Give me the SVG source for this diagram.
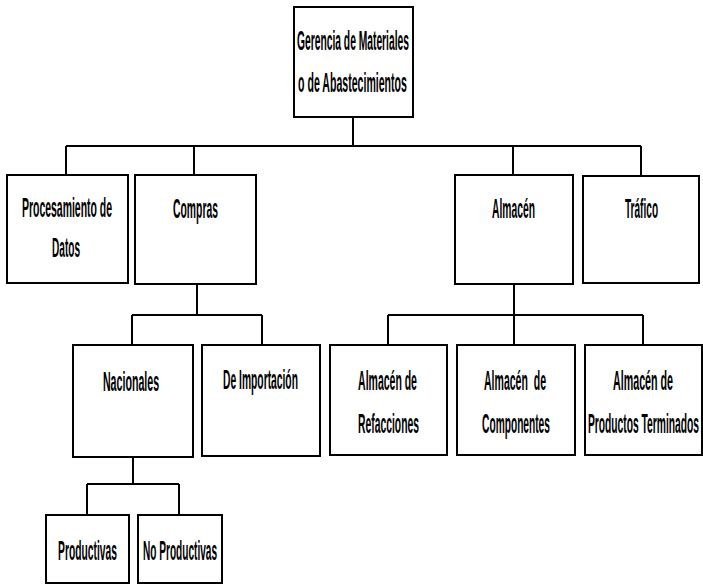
<svg xmlns="http://www.w3.org/2000/svg" width="703" height="585" viewBox="0 0 703 585">
<style>
.box{fill:#fff;stroke:#000;stroke-width:2}
.ln{fill:none;stroke:#000;stroke-width:2}
text{font-family:"Liberation Sans",Arial,sans-serif;font-size:27px;font-weight:bold;fill:#000;text-anchor:middle}
</style>
<rect width="703" height="585" fill="#fff"/>
<g id="connectors">
<path class="ln" d="M353 117V146M66 146H641M66 146V175M194 146V175M513 146V175M641 146V176"/>
<path class="ln" d="M197 284V315M132 315H262M132 315V345M262 315V345"/>
<path class="ln" d="M514 284V315M388 315H643M388 315V345M514 315V345M643 315V345"/>
<path class="ln" d="M133 457V484M87 484H179M87 484V515M179 484V515"/>
</g>
<g id="gerencia"><rect class="box" x="294" y="7" width="119" height="110"/>
<text transform="translate(353 50) scale(0.39 1)" textLength="287" lengthAdjust="spacingAndGlyphs">Gerencia de Materiales</text>
<text transform="translate(352.5 92) scale(0.39 1)" textLength="279" lengthAdjust="spacingAndGlyphs">o de Abastecimientos</text></g>
<g id="procesamiento"><rect class="box" x="7" y="175" width="121" height="108"/>
<text transform="translate(67 217) scale(0.39 1)" textLength="231" lengthAdjust="spacingAndGlyphs">Procesamiento de</text>
<text transform="translate(66 257) scale(0.39 1)" textLength="72" lengthAdjust="spacingAndGlyphs">Datos</text></g>
<g id="compras"><rect class="box" x="135" y="175" width="121" height="109"/>
<text transform="translate(195.5 218) scale(0.39 1)" textLength="115" lengthAdjust="spacingAndGlyphs">Compras</text></g>
<g id="almacen"><rect class="box" x="455" y="175" width="118" height="109"/>
<text transform="translate(513.5 218) scale(0.39 1)" textLength="110" lengthAdjust="spacingAndGlyphs">Almacén</text></g>
<g id="trafico"><rect class="box" x="583" y="176" width="116" height="107"/>
<text transform="translate(641.5 218) scale(0.39 1)" textLength="85" lengthAdjust="spacingAndGlyphs">Tráfico</text></g>
<g id="nacionales"><rect class="box" x="73" y="345" width="120" height="112"/>
<text transform="translate(131 391) scale(0.39 1)" textLength="144" lengthAdjust="spacingAndGlyphs">Nacionales</text></g>
<g id="importacion"><rect class="box" x="202" y="345" width="118" height="111"/>
<text transform="translate(260.5 389) scale(0.39 1)" textLength="192" lengthAdjust="spacingAndGlyphs">De Importación</text></g>
<g id="refacciones"><rect class="box" x="330" y="345" width="117" height="110"/>
<text transform="translate(387.5 390) scale(0.39 1)" textLength="151" lengthAdjust="spacingAndGlyphs">Almacén de</text>
<text transform="translate(388.5 433) scale(0.39 1)" textLength="156" lengthAdjust="spacingAndGlyphs">Refacciones</text></g>
<g id="componentes"><rect class="box" x="457" y="345" width="118" height="110"/>
<text transform="translate(515 390) scale(0.39 1)" textLength="159" lengthAdjust="spacingAndGlyphs" style="white-space:pre">Almacén  de</text>
<text transform="translate(516 433) scale(0.39 1)" textLength="174" lengthAdjust="spacingAndGlyphs">Componentes</text></g>
<g id="terminados"><rect class="box" x="585" y="345" width="117" height="110"/>
<text transform="translate(643 390) scale(0.39 1)" textLength="154" lengthAdjust="spacingAndGlyphs">Almacén de</text>
<text transform="translate(643.5 433) scale(0.39 1)" textLength="285" lengthAdjust="spacingAndGlyphs">Productos Terminados</text></g>
<g id="productivas"><rect class="box" x="46" y="515" width="83" height="68"/>
<text transform="translate(87.5 560) scale(0.39 1)" textLength="151" lengthAdjust="spacingAndGlyphs">Productivas</text></g>
<g id="noproductivas"><rect class="box" x="138" y="515" width="84" height="68"/>
<text transform="translate(180 560) scale(0.39 1)" textLength="190" lengthAdjust="spacingAndGlyphs">No Productivas</text></g>
</svg>
